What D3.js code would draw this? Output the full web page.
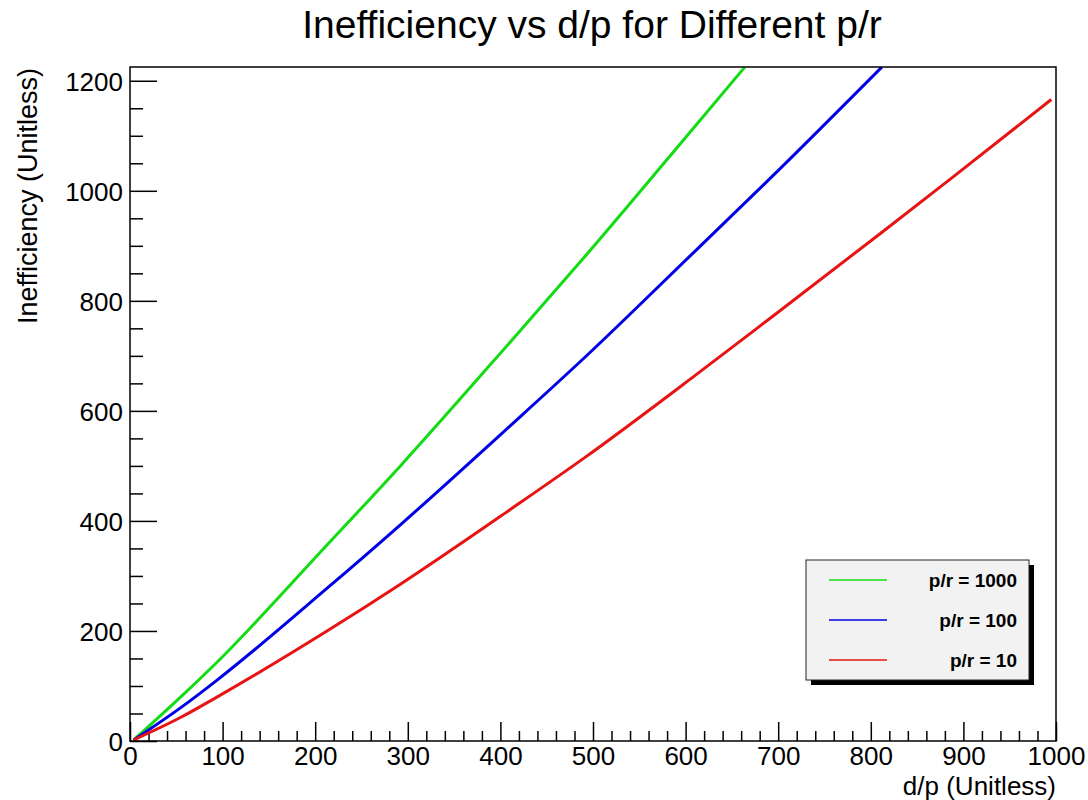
<!DOCTYPE html>
<html>
<head>
<meta charset="utf-8">
<script src="https://cdn.jsdelivr.net/npm/d3@7"></script>
<style>
	body { margin: 0; background: #fff; }
	svg { font-family: "Liberation Sans", Arial, Helvetica, sans-serif; }
</style>
</head>
<body>
<svg width="1088" height="800"></svg>
<script>
// values
const dpGreen = [4, 56, 92, 211, 292, 410, 491, 610, 664];
const ineffGreen = [2, 82, 140, 353, 500, 724, 880, 1117, 1225];

const dpBlue = [4, 56, 92, 211, 292, 410, 491, 610, 691, 812];
const ineffBlue = [2, 62, 108, 275, 393, 572, 697, 890, 1022, 1225];

const dpRed = [4, 56, 92, 211, 292, 410, 491, 610, 691, 810, 891, 995];
const ineffRed = [2, 44, 78, 198, 285, 420, 515, 664, 768, 922, 1028, 1166];

const legendLabels = ['p/r = 1000', 'p/r = 100', 'p/r = 10'];
const xTicks = [0, 100, 200, 300, 400, 500, 600, 700, 800, 900, 1000];
const yTicks = [0, 200, 400, 600, 800, 1000, 1200];

const series = [
	{x: dpGreen, y: ineffGreen, colour: '#14dc14'},
	{x: dpBlue, y: ineffBlue, colour: '#0000e8'},
	{x: dpRed, y: ineffRed, colour: '#e81414'}
];

const svg = d3.select('svg');
const frameL = 130, frameR = 1056, frameT = 67, frameB = 741;
const fontSize = 26;

const x = d3.scaleLinear().domain([0, 1000]).range([frameL, frameR]);
const y = d3.scaleLinear().domain([0, 1225]).range([frameB, frameT]);

svg.append('defs').append('clipPath').attr('id', 'frame')
	.append('rect')
		.attr('x', frameL).attr('y', frameT)
		.attr('width', frameR - frameL).attr('height', frameB - frameT);

// title
svg.append('text')
	.attr('x', 592).attr('y', 38)
	.attr('text-anchor', 'middle')
	.attr('font-size', 39)
	.text('Inefficiency vs d/p for Different p/r');

// minor ticks first
const xMinor = d3.range(0, 1001, 20).filter(v => v % 100 != 0);
const yMinor = d3.range(0, 1225, 50).filter(v => v % 200 != 0);

svg.append('g')
	.attr('transform', `translate(0,${frameB})`)
	.call(d3.axisBottom(x).tickValues(xMinor).tickSize(-10).tickFormat(''))
	.call(g => g.select('.domain').remove())
	.call(g => g.selectAll('line').attr('stroke-width', 1.5));

svg.append('g')
	.attr('transform', `translate(${frameL},0)`)
	.call(d3.axisLeft(y).tickValues(yMinor).tickSize(-13).tickFormat(''))
	.call(g => g.select('.domain').remove())
	.call(g => g.selectAll('line').attr('stroke-width', 1.5));

// major ticks + labels
svg.append('g')
	.attr('transform', `translate(0,${frameB})`)
	.call(d3.axisBottom(x).tickValues(xTicks).tickSize(-19).tickPadding(6).tickFormat(d3.format('d')))
	.call(g => g.select('.domain').remove())
	.call(g => g.selectAll('line').attr('stroke-width', 1.5))
	.call(g => g.selectAll('text')
		.attr('font-size', fontSize)
		.attr('font-family', null)
		.attr('fill', '#000'));

svg.append('g')
	.attr('transform', `translate(${frameL},0)`)
	.call(d3.axisLeft(y).tickValues(yTicks).tickSize(-27).tickPadding(7).tickFormat(d3.format('d')))
	.call(g => g.select('.domain').remove())
	.call(g => g.selectAll('line').attr('stroke-width', 1.5))
	.call(g => g.selectAll('text')
		.attr('font-size', fontSize)
		.attr('font-family', null)
		.attr('dy', '0.38em')
		.attr('fill', '#000'));

// axis titles
svg.append('text')
	.attr('x', frameR).attr('y', 794.5)
	.attr('text-anchor', 'end')
	.attr('font-size', 26)
	.text('d/p (Unitless)');

svg.append('text')
	.attr('transform', `translate(37,${frameT + 1}) rotate(-90)`)
	.attr('text-anchor', 'end')
	.attr('font-size', 27)
	.text('Inefficiency (Unitless)');

// curves
const line = d3.line()
	.x(d => x(d[0]))
	.y(d => y(d[1]))
	.curve(d3.curveMonotoneX);

svg.append('g').attr('clip-path', 'url(#frame)')
	.selectAll('path')
	.data(series)
	.enter().append('path')
		.attr('d', s => line(s.x.map((v, i) => [v, s.y[i]])))
		.attr('fill', 'none')
		.attr('stroke', s => s.colour)
		.attr('stroke-width', 3);

// frame
svg.append('rect')
	.attr('x', frameL).attr('y', frameT)
	.attr('width', frameR - frameL).attr('height', frameB - frameT)
	.attr('fill', 'none')
	.attr('stroke', '#000')
	.attr('stroke-width', 1.5);

// legend
const lg = {x: 806, y: 560, w: 223, h: 120, shadow: 5};
const legend = svg.append('g');
legend.append('rect')
	.attr('x', lg.x + lg.shadow).attr('y', lg.y + lg.shadow)
	.attr('width', lg.w).attr('height', lg.h)
	.attr('fill', '#000');
legend.append('rect')
	.attr('x', lg.x).attr('y', lg.y)
	.attr('width', lg.w).attr('height', lg.h)
	.attr('fill', '#f2f2f2')
	.attr('stroke', '#222')
	.attr('stroke-width', 1);

const rowY = d3.scalePoint().domain(legendLabels).range([lg.y + 20, lg.y + 100]);

legendLabels.forEach((lab, i) => {
	legend.append('line')
		.attr('x1', 829).attr('x2', 887)
		.attr('y1', rowY(lab)).attr('y2', rowY(lab))
		.attr('stroke', series[i].colour)
		.attr('stroke-width', 1.5);
	legend.append('text')
		.attr('x', 1017).attr('y', rowY(lab) + 7)
		.attr('text-anchor', 'end')
		.attr('font-size', 19)
		.attr('font-weight', 'bold')
		.text(lab);
});
</script>
</body>
</html>
